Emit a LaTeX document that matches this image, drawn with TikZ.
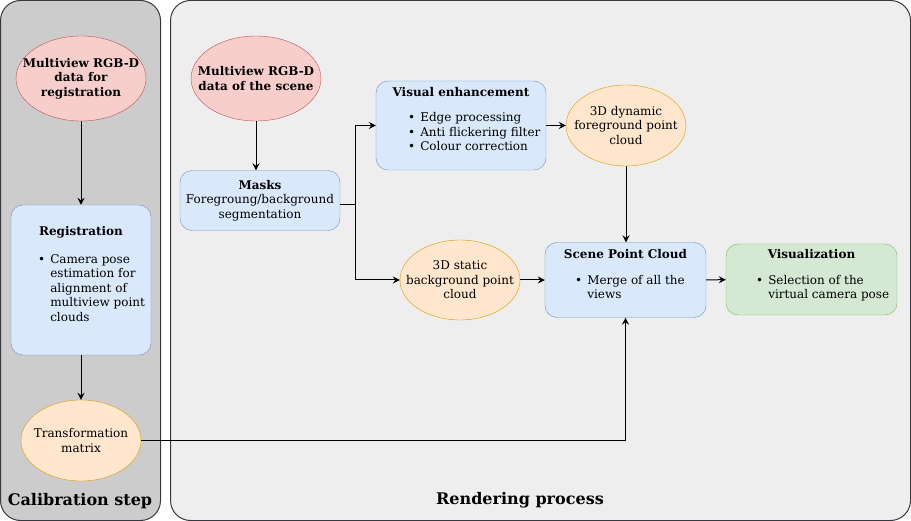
\documentclass[tikz,border=0pt,12pt]{standalone}
\usepackage{fontspec}
\setmainfont{DejaVu Serif}
\usetikzlibrary{shapes.geometric,arrows.meta}
\definecolor{ccred}{RGB}{184,84,80}
\definecolor{ccredfill}{RGB}{248,206,204}
\definecolor{ccblue}{RGB}{108,142,191}
\definecolor{ccbluefill}{RGB}{218,232,252}
\definecolor{ccorange}{RGB}{215,155,0}
\definecolor{ccorangefill}{RGB}{255,230,204}
\definecolor{ccgreen}{RGB}{130,179,102}
\definecolor{ccgreenfill}{RGB}{213,232,212}
\definecolor{ccframe}{RGB}{54,57,61}
\definecolor{ccdark}{RGB}{204,204,204}
\definecolor{cclight}{RGB}{238,238,238}

% liste a puces
\newcommand{\liste}[1]{\begin{tabular}[t]{@{}l@{\hspace{5pt}}l@{}}#1\end{tabular}}

\begin{document}
\begin{tikzpicture}[x=1pt,y=-1pt]

  % Styles
  \tikzstyle{fleche} = [-{Stealth[length=7pt,width=7pt,inset=2.5pt]}, line width=1pt, black]
  \tikzstyle{cadre} = [draw=ccframe, line width=1pt, rounded corners=20pt]
  \tikzstyle{ellrouge} = [ellipse, draw=ccred, fill=ccredfill, inner sep=0pt]
  \tikzstyle{ellorange} = [ellipse, draw=ccorange, fill=ccorangefill, inner sep=0pt]
  \tikzstyle{bloc} = [rectangle, draw=ccblue, fill=ccbluefill, rounded corners=12pt, inner sep=0pt]
  \tikzstyle{blocvert} = [bloc, draw=ccgreen, fill=ccgreenfill]
  \tikzstyle{texte} = [inner sep=0pt, align=center]
  \tikzstyle{gras} = [texte, font=\bfseries]
  \tikzstyle{titre} = [inner sep=0pt, font=\bfseries\fontsize{16}{19}\selectfont]
  \tikzstyle{puces} = [inner sep=0pt, anchor=base west]

  \useasboundingbox (0,0) rectangle (911,521);

  % Les deux zones
  \draw[cadre, fill=ccdark] (0.5,0.5) rectangle (160.5,520.5);
  \draw[cadre, fill=cclight] (170.5,0.5) rectangle (910.5,520.5);
  \node[titre] (calib) at (80,501) {Calibration step};
  \node[titre] (rendu) at (520,500) {Rendering process};

  % Calibration
  \node[ellrouge, minimum width=130, minimum height=85] (regdata) at (81,78.5) {};
  \node[gras] at (regdata) {Multiview RGB-D\\data for\\registration};

  \node[bloc, minimum width=140, minimum height=150] (reg) at (81,280) {};
  \node[gras] at (81,232) {Registration};
  \node[puces] at (38,263.5) {\liste{\textbullet & Camera pose\\ & estimation for\\ & alignment of\\ & multiview point\\ & clouds}};

  \node[ellorange, minimum width=120, minimum height=81] (transf) at (81,440.5) {};
  \node[texte] at (transf) {Transformation\\matrix};

  % Rendu
  \node[ellrouge, minimum width=130, minimum height=85] (scenedata) at (256,78.5) {};
  \node[gras] at (scenedata) {Multiview RGB-D\\data of the scene};

  \node[bloc, minimum width=160, minimum height=60] (masks) at (260,200.5) {};
  \node[texte] at (masks) {\textbf{Masks}\\Foregroung/background\\segmentation};

  \node[bloc, minimum width=170, minimum height=89] (visu) at (461,125.5) {};
  \node[gras] at (461,92) {Visual enhancement};
  \node[puces] at (408,122) {\liste{\textbullet & Edge processing\\ \textbullet & Anti flickering filter\\ \textbullet & Colour correction}};

  \node[ellorange, minimum width=120, minimum height=81] (dyn) at (626,125.5) {};
  \node[texte] at (dyn) {3D dynamic\\foreground point\\cloud};

  \node[ellorange, minimum width=120, minimum height=80] (stat) at (460,280) {};
  \node[texte] at (stat) {3D static\\background point\\cloud};

  \node[bloc, minimum width=161, minimum height=75] (scene) at (625.5,280) {};
  \node[gras] at (625.5,254) {Scene Point Cloud};
  \node[puces] at (575,284.5) {\liste{\textbullet & Merge of all the\\ & views}};

  \node[blocvert, minimum width=171, minimum height=71] (vue) at (811.5,279.5) {};
  \node[gras] at (811.5,254) {Visualization};
  \node[puces] at (756,284.5) {\liste{\textbullet & Selection of the\\ & virtual camera pose}};

  % Fleches
  \draw[fleche] (regdata) -- (reg);
  \draw[fleche] (reg) -- (transf);
  \draw[fleche] (scenedata) -- (scenedata |- masks.north);
  \coordinate (embr) at (355,205);
  \draw[fleche] (masks.east |- embr) -- (embr) |- (visu.west);
  \draw[fleche] (embr) |- (stat.west);
  \draw[fleche] (visu) -- (dyn);
  \draw[fleche] (dyn) -- (dyn |- scene.north);
  \draw[fleche] (stat) -- (scene);
  \draw[fleche] (scene) -- (vue);
  \draw[fleche] (transf.east) -| (scene.south);

\end{tikzpicture}
\end{document}
